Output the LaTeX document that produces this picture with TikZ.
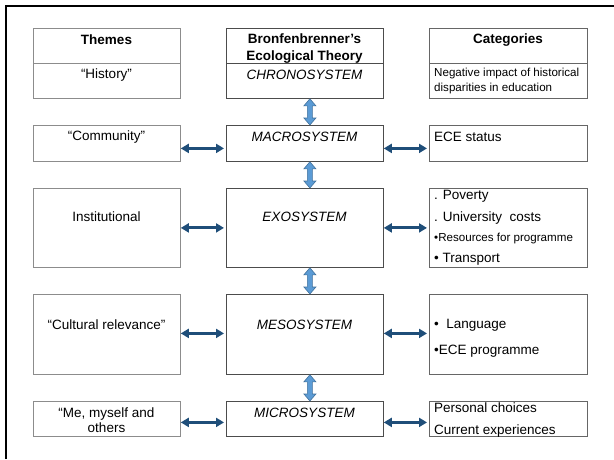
\documentclass[tikz,border=0pt]{standalone}
\usepackage{fontspec}
\setmainfont{Liberation Sans}
\usetikzlibrary{arrows.meta,calc}
\definecolor{navy}{HTML}{1F4E79}
\definecolor{skyblue}{HTML}{5B9BD5}
\definecolor{skyline}{HTML}{41719C}
\newcommand\bigtxt{\fontsize{13.5}{17}\selectfont}
\newcommand\smalltxt{\fontsize{11.6}{15}\selectfont}
\begin{document}
\begin{tikzpicture}[x=1pt,y=-1pt,font=\bigtxt,
	every node/.style={inner sep=0pt,font=\bigtxt},
	box/.style={draw=#1,line width=0.8pt,anchor=north west},
	cat/.style={anchor=west,align=left},
	harrow/.style={navy,line width=3pt,shorten >=2pt,{Triangle[length=8pt,width=9pt]}-{Triangle[length=8pt,width=9pt]}},
	varrow/.style={draw=skyline,fill=skyblue,line width=0.6pt}]
	\useasboundingbox[fill=white] (0,0) rectangle (614,459);
	\draw[line width=2.5pt] (6,459) |- (614,6);
	\foreach \r/\t/\h in {1/28/70,2/125/36,3/188/79,4/294/80,5/401/35}
	{\node[box=black!45,minimum width=147pt,minimum height=\h pt] (T\r) at (33,\t) {};
		\node[box=black!70,minimum width=157pt,minimum height=\h pt] (S\r) at (226,\t) {};
		\node[box=black!60,minimum width=158pt,minimum height=\h pt] (C\r) at (429,\t) {};}
	\draw[black!45,line width=0.8pt] (T1.west)--(T1.east);
	\draw[black!70,line width=0.8pt] (S1.west)--(S1.east);
	\draw[black!60,line width=0.8pt] (C1.west)--(C1.east);
	\node[font=\bigtxt\bfseries] (hT) at (106.5,40) {Themes};
	\node[font=\bigtxt\bfseries,align=center] (hS) at (304.5,48.5) {Bronfenbrenner’s\\Ecological Theory};
	\node[font=\bigtxt\bfseries] (hC) at (508,40) {Categories};
	\foreach \r/\y/\t in {1/75/“History”,2/137/“Community”,3/217/Institutional,4/325/“Cultural relevance”,5/420.5/{“Me, myself and\\others}}
	\node[align=center,font=\fontsize{13.5}{15}\selectfont] (t\r) at (106.5,\y) {\t};
	\foreach \r/\y/\t in {1/75/CHRONOSYSTEM,2/137/MACROSYSTEM,3/217/EXOSYSTEM,4/325/MESOSYSTEM,5/413/MICROSYSTEM}
	\node[font=\bigtxt\itshape] (s\r) at (304.5,\y) {\t};
	\node[cat,font=\smalltxt] (c1) at (434,80.5) {Negative impact of historical\\disparities in education};
	\node[cat] (c2) at (434,137) {ECE status};
	\node[cat] (c3a) at (434,196) {. Poverty};
	\node[cat] (c3b) at (434,218) {. University\ \ costs};
	\node[cat,font=\smalltxt] (c3c) at (434,239) {•Resources for programme};
	\node[cat] (c3d) at (434,259) {• Transport};
	\node[cat] (c4a) at (434,325) {•\ \ Language};
	\node[cat] (c4b) at (434,351) {•ECE programme};
	\node[cat] (c5a) at (434,408) {Personal choices};
	\node[cat] (c5b) at (434,431) {Current experiences};
	\foreach \r/\d in {2/-5,3/0,4/1,5/-3.5}
	{\draw[harrow] ([yshift=\d pt]T\r.east) -- ([yshift=\d pt]S\r.west);
		\draw[harrow] ([yshift=\d pt]S\r.east) -- ([yshift=\d pt]C\r.west);}
	\foreach \a/\b in {S1/S2,S2/S3,S3/S4,S4/S5}
	\draw[varrow] let \p1=([xshift=5pt]\a.south), \p2=([xshift=5pt]\b.north) in
	(\x1,\y1) -- (\x1+6pt,\y1-7pt) -- (\x1+2.5pt,\y1-7pt) -- (\x1+2.5pt,\y2+7pt) -- (\x1+6pt,\y2+7pt)
	-- (\x1,\y2) -- (\x1-6pt,\y2+7pt) -- (\x1-2.5pt,\y2+7pt) -- (\x1-2.5pt,\y1-7pt) -- (\x1-6pt,\y1-7pt) -- cycle;
\end{tikzpicture}
\end{document}
